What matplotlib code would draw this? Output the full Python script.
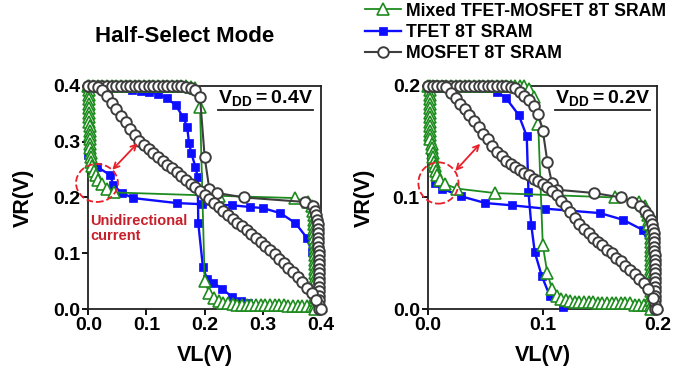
import matplotlib
matplotlib.use("Agg")
import matplotlib.pyplot as plt
from matplotlib.patches import Ellipse

plt.rcParams['font.family'] = ['Liberation Sans', 'DejaVu Sans']
plt.rcParams['font.weight'] = 'bold'
plt.rcParams['mathtext.fontset'] = 'custom'
plt.rcParams['mathtext.rm'] = 'Liberation Sans:bold'
plt.rcParams['mathtext.bf'] = 'Liberation Sans:bold'

# ---------------- VDD = 0.4 V panel ----------------
vin_04 = [0.000, 0.008, 0.016, 0.024, 0.032, 0.040, 0.048, 0.056, 0.064, 0.072,
          0.080, 0.088, 0.096, 0.104, 0.112, 0.120, 0.128, 0.136, 0.144, 0.152,
          0.160, 0.168, 0.176, 0.184, 0.192, 0.200, 0.208, 0.216, 0.224, 0.232,
          0.240, 0.248, 0.256, 0.264, 0.272, 0.280, 0.288, 0.296, 0.304, 0.312,
          0.320, 0.328, 0.336, 0.344, 0.352, 0.360, 0.368, 0.376, 0.384, 0.392, 0.400]

# mixed TFET-MOSFET: VR = f(VL)
mix04_a_vr = [0.400, 0.400, 0.400, 0.400, 0.400, 0.400, 0.400, 0.400, 0.400, 0.400,
              0.400, 0.400, 0.400, 0.400, 0.400, 0.400, 0.400, 0.400, 0.400, 0.400,
              0.400, 0.400, 0.399, 0.397, 0.362, 0.050, 0.028, 0.019, 0.014, 0.011,
              0.010, 0.009, 0.008, 0.008, 0.008, 0.008, 0.007, 0.007, 0.007, 0.007,
              0.007, 0.007, 0.007, 0.006, 0.006, 0.006, 0.006, 0.006, 0.006, 0.006, 0.006]
# mixed: VL = g(VR)
mix04_b_vr = [0.400, 0.392, 0.384, 0.376, 0.368, 0.360, 0.352, 0.344, 0.336, 0.328,
              0.320, 0.312, 0.304, 0.296, 0.288, 0.280, 0.272, 0.264, 0.256, 0.248,
              0.240, 0.232, 0.224, 0.216, 0.209, 0.203, 0.199, 0.192, 0.184, 0.176,
              0.168, 0.160, 0.152, 0.144, 0.136, 0.128, 0.120, 0.112, 0.104, 0.096,
              0.088, 0.080, 0.072, 0.064, 0.056, 0.048, 0.040, 0.032, 0.024, 0.016,
              0.008, 0.000]
mix04_b_vl = [0.002, 0.002, 0.002, 0.002, 0.002, 0.002, 0.002, 0.002, 0.002, 0.003,
              0.003, 0.003, 0.003, 0.003, 0.003, 0.004, 0.004, 0.005, 0.007, 0.010,
              0.013, 0.017, 0.023, 0.032, 0.045, 0.224, 0.355, 0.377, 0.384, 0.386,
              0.387, 0.388, 0.388, 0.388, 0.388, 0.388, 0.389, 0.389, 0.389, 0.389,
              0.389, 0.389, 0.389, 0.389, 0.389, 0.389, 0.389, 0.389, 0.389, 0.389,
              0.389, 0.389]

# TFET 8T
tfet04_a_vl = [0.000, 0.030, 0.060, 0.075, 0.090, 0.105, 0.120, 0.135, 0.150, 0.163,
               0.170, 0.173, 0.177, 0.184, 0.188, 0.189, 0.197, 0.204, 0.215, 0.230,
               0.247, 0.262, 0.275, 0.400]
tfet04_a_vr = [0.400, 0.399, 0.396, 0.393, 0.391, 0.389, 0.386, 0.378, 0.366, 0.344,
               0.326, 0.298, 0.280, 0.255, 0.237, 0.154, 0.075, 0.054, 0.047, 0.036,
               0.022, 0.015, 0.011, 0.000]
tfet04_b_vl = [0.000, 0.000, 0.015, 0.038, 0.043, 0.058, 0.077, 0.152, 0.195, 0.247,
               0.278, 0.300, 0.330, 0.356, 0.376, 0.384, 0.390, 0.393, 0.395]
tfet04_b_vr = [0.400, 0.276, 0.255, 0.240, 0.222, 0.208, 0.199, 0.190, 0.188, 0.186,
               0.183, 0.181, 0.172, 0.154, 0.127, 0.102, 0.060, 0.030, 0.000]

# MOSFET 8T: upper branch VR = f(VL) joined to mirrored branch VL = g(VR)
mos04_a1_vr = [0.400, 0.400, 0.400, 0.400, 0.400, 0.400, 0.400, 0.400, 0.400, 0.400,
               0.400, 0.400, 0.400, 0.400, 0.400, 0.400, 0.400, 0.400, 0.400, 0.400,
               0.400, 0.399, 0.397, 0.392, 0.380, 0.272, 0.215]
mos04_a2_vr = [0.208, 0.200, 0.192, 0.184, 0.176, 0.168, 0.160, 0.152, 0.144, 0.136,
               0.128, 0.120, 0.112, 0.104, 0.096, 0.088, 0.080, 0.072, 0.064, 0.056,
               0.048, 0.040, 0.032, 0.024, 0.016, 0.008, 0.000]
mos04_a2_vl = [0.222, 0.268, 0.372, 0.386, 0.390, 0.392, 0.393, 0.394, 0.394, 0.395,
               0.395, 0.395, 0.395, 0.396, 0.396, 0.396, 0.396, 0.396, 0.396, 0.396,
               0.396, 0.396, 0.397, 0.397, 0.397, 0.397, 0.397]
mos04_b_vr = [0.400, 0.400, 0.398, 0.392, 0.382, 0.370, 0.358, 0.346, 0.335, 0.323,
              0.312, 0.302, 0.294, 0.287, 0.280, 0.273, 0.266, 0.259, 0.252, 0.245,
              0.238, 0.231, 0.224, 0.218, 0.211, 0.204, 0.197, 0.190, 0.183, 0.176,
              0.169, 0.162, 0.155, 0.148, 0.141, 0.134, 0.127, 0.120, 0.113, 0.106,
              0.098, 0.090, 0.082, 0.074, 0.066, 0.057, 0.048, 0.038, 0.028, 0.016, 0.000]

# ---------------- VDD = 0.2 V panel ----------------
vin_02 = [0.000, 0.004, 0.008, 0.012, 0.016, 0.020, 0.024, 0.028, 0.032, 0.036,
          0.040, 0.044, 0.048, 0.052, 0.056, 0.060, 0.064, 0.068, 0.072, 0.076,
          0.080, 0.084, 0.088, 0.092, 0.096, 0.100, 0.104, 0.108, 0.112, 0.116,
          0.120, 0.124, 0.128, 0.132, 0.136, 0.140, 0.144, 0.148, 0.152, 0.156,
          0.160, 0.164, 0.168, 0.172, 0.176, 0.180, 0.184, 0.188, 0.192, 0.196, 0.200]

mix02_a_vr = [0.200, 0.200, 0.200, 0.200, 0.200, 0.200, 0.200, 0.200, 0.200, 0.200,
              0.200, 0.200, 0.200, 0.200, 0.200, 0.200, 0.200, 0.200, 0.200, 0.200,
              0.200, 0.200, 0.197, 0.190, 0.166, 0.057, 0.032, 0.018, 0.012, 0.009,
              0.008, 0.007, 0.006, 0.006, 0.006, 0.006, 0.006, 0.005, 0.005, 0.005,
              0.005, 0.005, 0.005, 0.005, 0.005, 0.004, 0.004, 0.004, 0.004, 0.004, 0.004]
mix02_b_vl = [0.002, 0.002, 0.002, 0.002, 0.002, 0.002, 0.002, 0.002, 0.002, 0.002,
              0.002, 0.002, 0.002, 0.003, 0.003, 0.004, 0.004, 0.005, 0.006, 0.007,
              0.008, 0.010, 0.015, 0.025, 0.058, 0.163, 0.184, 0.189, 0.191, 0.192,
              0.193, 0.193, 0.194, 0.194, 0.194, 0.194, 0.194, 0.194, 0.194, 0.194,
              0.194, 0.194, 0.194, 0.194, 0.194, 0.194, 0.194, 0.194, 0.194, 0.194, 0.194]

tfet02_a_vl = [0.000, 0.030, 0.050, 0.060, 0.068, 0.079, 0.086, 0.0875, 0.090, 0.093,
               0.099, 0.106, 0.118, 0.200]
tfet02_a_vr = [0.200, 0.200, 0.198, 0.195, 0.189, 0.174, 0.155, 0.105, 0.075, 0.051,
               0.030, 0.012, 0.002, 0.000]
tfet02_b_vl = [0.000, 0.006, 0.012, 0.029, 0.050, 0.073, 0.102, 0.150, 0.170, 0.187,
               0.194, 0.196, 0.197]
tfet02_b_vr = [0.200, 0.113, 0.108, 0.101, 0.095, 0.093, 0.090, 0.086, 0.080, 0.071,
               0.055, 0.030, 0.000]

mos02_a1_vr = [0.200, 0.200, 0.200, 0.200, 0.200, 0.200, 0.200, 0.200, 0.200, 0.200,
               0.200, 0.200, 0.200, 0.200, 0.200, 0.200, 0.200, 0.200, 0.199, 0.198,
               0.195, 0.191, 0.187, 0.182, 0.175, 0.160, 0.132, 0.113, 0.107]
mos02_a2_vr = [0.104, 0.100, 0.096, 0.092, 0.088, 0.084, 0.080, 0.076, 0.072, 0.068,
               0.064, 0.060, 0.056, 0.052, 0.048, 0.044, 0.040, 0.036, 0.032, 0.028,
               0.024, 0.020, 0.016, 0.012, 0.008, 0.004, 0.000]
mos02_a2_vl = [0.145, 0.168, 0.178, 0.185, 0.189, 0.192, 0.194, 0.195, 0.196, 0.197,
               0.197, 0.197, 0.197, 0.197, 0.198, 0.198, 0.198, 0.198, 0.198, 0.198,
               0.198, 0.198, 0.198, 0.198, 0.198, 0.198, 0.198]
mos02_b_vr = [0.200, 0.200, 0.200, 0.200, 0.199, 0.194, 0.189, 0.184, 0.179, 0.174,
              0.169, 0.163, 0.157, 0.152, 0.146, 0.141, 0.137, 0.133, 0.130, 0.127,
              0.125, 0.122, 0.120, 0.117, 0.115, 0.112, 0.109, 0.106, 0.102, 0.097,
              0.092, 0.087, 0.082, 0.076, 0.072, 0.068, 0.064, 0.060, 0.057, 0.053,
              0.050, 0.046, 0.043, 0.039, 0.035, 0.031, 0.027, 0.023, 0.018, 0.010, 0.000]

labels = ["Mixed TFET-MOSFET 8T SRAM", "TFET 8T SRAM", "MOSFET 8T SRAM"]

GREEN = '#1e8b1e'
BLUE = '#0d0dff'
GRAY = '#3d3d3d'
RED = '#e8202a'

mixed_style = dict(color=GREEN, lw=1.3, marker='^', ms=8, mfc='white', mec=GREEN, mew=1.2, zorder=4)
tfet_style = dict(color=BLUE, lw=1.7, marker='s', ms=6.3, mfc=BLUE, mec=BLUE, mew=0.5, zorder=3)
mos_style = dict(color=GRAY, lw=1.5, marker='o', ms=7.6, mfc='white', mec=GRAY, mew=1.4, zorder=5)


def draw_panel(ax, vin, mix_a, mix_b, tfet_a, tfet_b, mos_a, mos_b, vdd, ticks):
    h_mix = ax.plot(vin, mix_a, clip_on=False, **mixed_style)[0]
    ax.plot(mix_b[0], mix_b[1], clip_on=False, **mixed_style)
    h_tfet = ax.plot(tfet_a[0], tfet_a[1], clip_on=False, **tfet_style)[0]
    ax.plot(tfet_b[0], tfet_b[1], clip_on=False, **tfet_style)
    h_mos = ax.plot(mos_a[0], mos_a[1], clip_on=False, **mos_style)[0]
    ax.plot(vin, mos_b, clip_on=False, **mos_style)
    ax.set_xlim(0, vdd)
    ax.set_ylim(0, vdd)
    ax.set_xticks(ticks)
    ax.set_yticks(ticks)
    ax.set_xticklabels([f"{t:.1f}" for t in ticks])
    ax.set_yticklabels([f"{t:.1f}" for t in ticks])
    ax.tick_params(direction='out', length=4, width=1.3, labelsize=14, pad=2)
    for s in ax.spines.values():
        s.set_linewidth(1.3)
        s.set_color('#222222')
    ax.set_xlabel("VL(V)", fontsize=15.5, fontweight='bold')
    ax.set_ylabel("VR(V)", fontsize=15.5, fontweight='bold')
    ax.xaxis.set_label_coords(0.5, -0.16)
    ax.yaxis.set_label_coords(-0.232, 0.5)
    return [h_mix, h_tfet, h_mos]


fig = plt.figure(figsize=(6.95, 3.82), dpi=100)
ax_l = fig.add_axes([0.127, 0.191, 0.335, 0.584])
ax_r = fig.add_axes([0.616, 0.191, 0.330, 0.584])

handles = draw_panel(ax_l, vin_04, mix04_a_vr, (mix04_b_vl, mix04_b_vr),
                     (tfet04_a_vl, tfet04_a_vr), (tfet04_b_vl, tfet04_b_vr),
                     (vin_04[:27] + mos04_a2_vl, mos04_a1_vr + mos04_a2_vr),
                     mos04_b_vr, 0.4, [0.0, 0.1, 0.2, 0.3, 0.4])
draw_panel(ax_r, vin_02, mix02_a_vr, (mix02_b_vl, vin_02[::-1]),
           (tfet02_a_vl, tfet02_a_vr), (tfet02_b_vl, tfet02_b_vr),
           (vin_02[:29] + mos02_a2_vl, mos02_a1_vr + mos02_a2_vr),
           mos02_b_vr, 0.2, [0.0, 0.1, 0.2])

# unidirectional-current annotations
ax_l.add_patch(Ellipse((0.015, 0.226), 0.072, 0.068, fill=False, ec=RED, ls='--', lw=1.3,
                       clip_on=False, zorder=6))
ax_l.annotate('', xy=(0.088, 0.301), xytext=(0.038, 0.246),
              arrowprops=dict(arrowstyle='<->', color=RED, lw=1.3, mutation_scale=10), zorder=6)
ax_l.text(0.004, 0.171, "Unidirectional\ncurrent", color='#c8202a', fontsize=10.5,
          fontweight='bold', ha='left', va='top', linespacing=1.15)
ax_r.add_patch(Ellipse((0.009, 0.113), 0.035, 0.037, fill=False, ec=RED, ls='--', lw=1.3,
                       clip_on=False, zorder=6))
ax_r.annotate('', xy=(0.047, 0.150), xytext=(0.022, 0.122),
              arrowprops=dict(arrowstyle='<->', color=RED, lw=1.3, mutation_scale=10), zorder=6)

vdd_texts = []
for ax, s in [(ax_l, r'$\mathbf{V_{DD}{=}0.4V}$'), (ax_r, r'$\mathbf{V_{DD}{=}0.2V}$')]:
    vdd_texts.append((ax, ax.text(0.966, 0.925, s, transform=ax.transAxes, ha='right',
                                  va='baseline', fontsize=14, zorder=7)))

fig.text(0.266, 0.905, "Half-Select Mode", ha='center', va='center', fontsize=16, fontweight='bold')

fig.legend(handles, labels, loc='upper left', bbox_to_anchor=(0.522, 1.0), frameon=False,
           fontsize=12.7, handlelength=2.0, handletextpad=0.3, labelspacing=0.25,
           borderpad=0.15, borderaxespad=0, numpoints=1)

fig.canvas.draw()
for ax, t in vdd_texts:
    bb = t.get_window_extent().transformed(ax.transAxes.inverted())
    ax.plot([bb.x0, bb.x1], [bb.y0 - 0.01, bb.y0 - 0.01], transform=ax.transAxes,
            color='#222222', lw=1.3, clip_on=False)

fig.savefig("out.png", dpi=100)
